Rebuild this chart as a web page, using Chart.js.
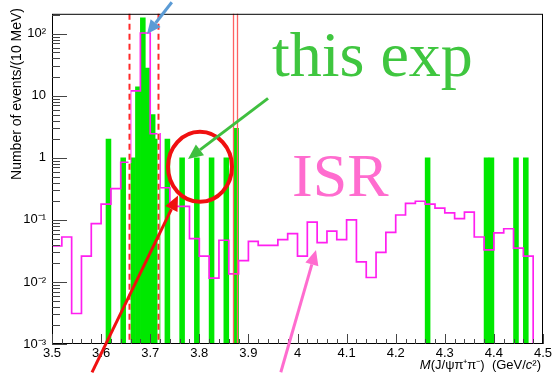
<!DOCTYPE html>
<html>
<head>
<meta charset="utf-8">
<script src="https://cdn.jsdelivr.net/npm/chart.js@4.4.1/dist/chart.umd.min.js"></script>
<style>
  html, body { margin: 0; padding: 0; background: #fff; }
  #wrap { width: 555px; height: 373px; }
</style>
</head>
<body>
<div id="wrap"><canvas id="chart" width="555" height="373"></canvas></div>
<script>
// data: 10 MeV bins (lower edge) with entries
const dataBinLow = [3.61, 3.64, 3.66, 3.67, 3.68, 3.69, 3.70, 3.71, 3.73, 3.76, 3.79, 3.82, 3.85, 3.87, 4.26, 4.38, 4.39, 4.44, 4.46];
const dataCounts = [2, 1, 1, 14, 180, 28, 5, 2, 2, 1, 1, 1, 1, 3, 1, 1, 1, 1, 1];

// ISR MC: 20 MeV bins
const isrBinLow = [3.50, 3.52, 3.54, 3.56, 3.58, 3.60, 3.62, 3.64, 3.66, 3.68,
                   3.70, 3.72, 3.74, 3.76, 3.78, 3.80, 3.82, 3.84, 3.86, 3.88,
                   3.90, 3.92, 3.94, 3.96, 3.98, 4.00, 4.02, 4.04, 4.06, 4.08,
                   4.10, 4.12, 4.14, 4.16, 4.18, 4.20, 4.22, 4.24, 4.26, 4.28,
                   4.30, 4.32, 4.34, 4.36, 4.38, 4.40, 4.42, 4.44, 4.46, 4.48];
const isrValues = [0.038, 0.053, 0.0031, 0.026, 0.087, 0.18, 0.32, 0.85, 12, 103,
                   2.45, 0.33, 0.165, 0.165, 0.05, 0.026, 0.0115, 0.047, 0.0135, 0.022,
                   0.045, 0.039, 0.039, 0.048, 0.06, 0.026, 0.092, 0.043, 0.066, 0.048,
                   0.10, 0.021, 0.0118, 0.030, 0.063, 0.12, 0.185, 0.20, 0.18, 0.155,
                   0.13, 0.105, 0.134, 0.053, 0.033, 0.062, 0.072, 0.035, 0.026, 0];

// selection windows
const psiWindow = [3.656, 3.716];
const xWindow = [3.868, 3.876];

// axis ticks
const xTickValues = [3.5, 3.6, 3.7, 3.8, 3.9, 4.0, 4.1, 4.2, 4.3, 4.4, 4.5];
const xTickLabels = ['3.5', '3.6', '3.7', '3.8', '3.9', '4', '4.1', '4.2', '4.3', '4.4', '4.5'];
const yTickValues = [0.001, 0.01, 0.1, 1, 10, 100];
const yTickLabels = ['10\u207B\u00B3', '10\u207B\u00B2', '10\u207B\u00B9', '1', '10', '10\u00B2'];

const X_MIN = 3.5, X_MAX = 4.5, Y_MIN = 0.001, Y_MAX = 210;

// build the histogram outline for the step line
const isrPoints = [{ x: X_MIN, y: Y_MIN }];
isrBinLow.forEach((lo, i) => {
    isrPoints.push({ x: lo, y: isrValues[i] > 0 ? isrValues[i] : Y_MIN });
});
isrPoints.push({ x: X_MAX, y: Y_MIN });

const dataPoints = dataBinLow.map((lo, i) => ({ x: lo + 0.005, y: dataCounts[i] }));

// annotations, in data coordinates
const notes = {
    blueArrow: { from: [3.744, 322], to: [3.6935, 99] },
    greenArrow: { from: [3.94, 9.1], to: [3.777, 0.96] },
    redArrow: { from: [3.5815, 0.00035], to: [3.7566, 0.247] },
    pinkArrow: { from: [3.966, 0.00035], to: [4.0377, 0.0327] },
    circle: [3.8014, 0.718],
    thisExp: [3.948, 20.5],
    isr: [3.9888, 0.245]
};

function arrow(ctx, x1, y1, x2, y2, color, w, head) {
    const ang = Math.atan2(y2 - y1, x2 - x1);
    const bx = x2 - head * Math.cos(ang), by = y2 - head * Math.sin(ang);
    ctx.strokeStyle = color;
    ctx.fillStyle = color;
    ctx.lineWidth = w;
    ctx.beginPath();
    ctx.moveTo(x1, y1);
    ctx.lineTo(bx, by);
    ctx.stroke();
    ctx.beginPath();
    ctx.moveTo(x2, y2);
    ctx.lineTo(bx + head * 0.45 * Math.sin(ang), by - head * 0.45 * Math.cos(ang));
    ctx.lineTo(bx - head * 0.45 * Math.sin(ang), by + head * 0.45 * Math.cos(ang));
    ctx.closePath();
    ctx.fill();
}

const decor = {
    id: 'decor',
    afterDatasetsDraw(chart) {
        const { ctx, chartArea: a, scales: { x } } = chart;
        ctx.save();
        // psi(2S) window: dashed
        psiWindow.forEach(v => {
            const px = Math.round(x.getPixelForValue(v)) + 0.5;
            ctx.setLineDash([]);
            ctx.strokeStyle = '#ffffff';
            ctx.lineWidth = 2;
            ctx.beginPath(); ctx.moveTo(px, a.top); ctx.lineTo(px, a.bottom); ctx.stroke();
            ctx.setLineDash([6, 4]);
            ctx.strokeStyle = '#ff2a2a';
            ctx.beginPath(); ctx.moveTo(px, a.top); ctx.lineTo(px, a.bottom); ctx.stroke();
        });
        ctx.setLineDash([]);
        xWindow.forEach(v => {
            const px = Math.round(x.getPixelForValue(v)) + 0.5;
            ctx.strokeStyle = '#ff6262';
            ctx.lineWidth = 1.3;
            ctx.beginPath(); ctx.moveTo(px, a.top); ctx.lineTo(px, a.bottom); ctx.stroke();
        });
        ctx.restore();
    },
    afterDraw(chart) {
        const { ctx, chartArea: a, scales: { x, y } } = chart;
        ctx.save();
        // frame
        ctx.strokeStyle = '#000';
        ctx.lineWidth = 1;
        ctx.strokeRect(a.left + 0.5, a.top + 0.5, a.right - a.left - 1, a.bottom - a.top - 1);

        // inward ticks
        ctx.strokeStyle = '#444';
        ctx.beginPath();
        for (let d = -3; d <= 2; d++) {
            for (let k = 1; k <= 9; k++) {
                const v = k * Math.pow(10, d);
                if (v > Y_MAX) break;
                const py = Math.round(y.getPixelForValue(v)) + 0.5;
                const len = k === 1 ? 15 : 8;
                ctx.moveTo(a.left, py); ctx.lineTo(a.left + len, py);
            }
        }
        for (let i = 0; i <= 50; i++) {
            const v = X_MIN + i * 0.02;
            const px = Math.round(x.getPixelForValue(v)) + 0.5;
            const len = i % 5 === 0 ? 10 : 5;
            ctx.moveTo(px, a.bottom); ctx.lineTo(px, a.bottom - len);
        }
        ctx.stroke();

        // y title
        ctx.fillStyle = '#000';
        ctx.font = '14px "Liberation Sans", Arial, sans-serif';
        ctx.save();
        ctx.translate(17, 8);
        ctx.rotate(-Math.PI / 2);
        ctx.textAlign = 'right';
        ctx.textBaseline = 'middle';
        ctx.fillText('Number of events/(10 MeV)', 0, 0);
        ctx.restore();

        // x title, italic M and c
        const parts = [
            { t: 'M', it: true }, { t: '(J/\u03C8\u03C0\u207A\u03C0\u207B)  (GeV/', it: false },
            { t: 'c', it: true }, { t: '\u00B2)', it: false }
        ];
        const fontOf = p => (p.it ? 'italic ' : '') + '13px "Liberation Sans", Arial, sans-serif';
        let total = 0;
        parts.forEach(p => { ctx.font = fontOf(p); total += ctx.measureText(p.t).width; });
        let cx = 541 - total;
        ctx.textAlign = 'left';
        ctx.textBaseline = 'alphabetic';
        parts.forEach(p => { ctx.font = fontOf(p); ctx.fillText(p.t, cx, 369); cx += ctx.measureText(p.t).width; });

        // annotations
        const P = (pt) => [x.getPixelForValue(pt[0]), y.getPixelForValue(pt[1])];
        ctx.save();
        ctx.beginPath();
        ctx.rect(0, 0, chart.width, chart.height);
        ctx.clip();

        ctx.font = '64px "Liberation Serif", "Times New Roman", serif';
        ctx.fillStyle = '#3fc63f';
        let t = P(notes.thisExp);
        ctx.fillText('this exp', t[0], t[1]);
        ctx.font = '62px "Liberation Serif", "Times New Roman", serif';
        ctx.fillStyle = '#ff6ccf';
        t = P(notes.isr);
        ctx.fillText('ISR', t[0], t[1]);

        const c = P(notes.circle);
        ctx.strokeStyle = '#f01010';
        ctx.lineWidth = 4;
        ctx.beginPath();
        ctx.ellipse(c[0], c[1], 32, 35, 0, 0, Math.PI * 2);
        ctx.stroke();

        let f = P(notes.blueArrow.from), e = P(notes.blueArrow.to);
        arrow(ctx, f[0], f[1], e[0], e[1], '#5b9bd5', 3, 14);
        f = P(notes.greenArrow.from); e = P(notes.greenArrow.to);
        arrow(ctx, f[0], f[1], e[0], e[1], '#3fbf3f', 3, 15);
        f = P(notes.redArrow.from); e = P(notes.redArrow.to);
        arrow(ctx, f[0], f[1], e[0], e[1], '#f01010', 3, 15);
        f = P(notes.pinkArrow.from); e = P(notes.pinkArrow.to);
        arrow(ctx, f[0], f[1], e[0], e[1], '#ff6ccf', 3, 15);
        ctx.restore();

        ctx.restore();
    }
};

const ctx = document.getElementById('chart').getContext('2d');
const chart = new Chart(ctx, {
    type: 'bar',
    data: {
        datasets: [{
            type: 'line',
            label: 'ISR',
            data: isrPoints,
            borderColor: '#ff1ff0',
            borderWidth: 1.7,
            pointRadius: 0,
            stepped: 'before',
            fill: false,
            order: 0
        }, {
            type: 'bar',
            label: 'data',
            data: dataPoints,
            backgroundColor: '#00e800',
            borderWidth: 0,
            barPercentage: 1,
            categoryPercentage: 1,
            order: 1
        }]
    },
    plugins: [decor],
    options: {
        responsive: false,
        animation: false,
        layout: { padding: { left: 0, top: 11, right: 12, bottom: 0 } },
        plugins: { legend: { display: false }, tooltip: { enabled: false } },
        scales: {
            x: {
                type: 'linear',
                min: X_MIN,
                max: X_MAX,
                offset: false,
                grid: { display: false, drawTicks: false, offset: false },
                border: { display: false },
                afterBuildTicks: s => { s.ticks = xTickValues.map(v => ({ value: v })); },
                afterFit: s => { s.height = 29; },
                ticks: {
                    autoSkip: false,
                    maxRotation: 0,
                    padding: 2,
                    color: '#000',
                    font: { family: '"Liberation Sans", Arial, sans-serif', size: 13 },
                    callback: (v, i) => xTickLabels[i]
                }
            },
            y: {
                type: 'logarithmic',
                min: Y_MIN,
                max: Y_MAX,
                grid: { display: false, drawTicks: false },
                border: { display: false },
                afterBuildTicks: s => { s.ticks = yTickValues.map(v => ({ value: v })); },
                afterFit: s => { s.width = 52; },
                ticks: {
                    autoSkip: false,
                    padding: 6,
                    color: '#000',
                    font: { family: '"Liberation Sans", Arial, sans-serif', size: 13 },
                    callback: (v, i) => yTickLabels[i]
                }
            }
        }
    }
});
</script>
</body>
</html>
